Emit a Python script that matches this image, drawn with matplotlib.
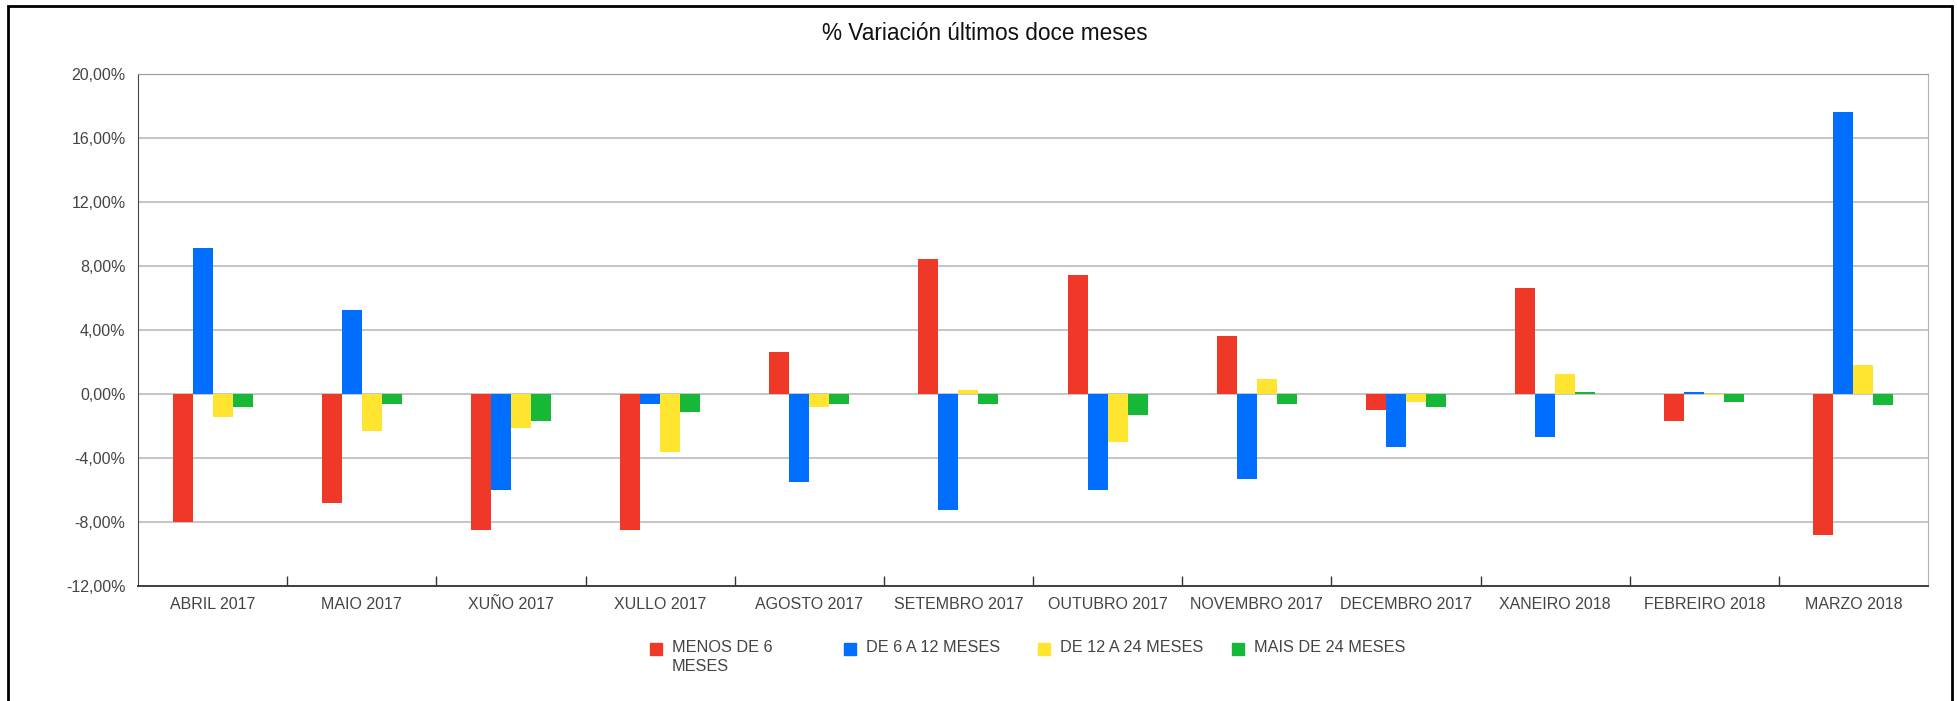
import matplotlib.pyplot as plt
from matplotlib.patches import Rectangle
from matplotlib.ticker import FuncFormatter
import numpy as np

plt.rcParams['font.family'] = ['Liberation Sans', 'DejaVu Sans']

months = [
    'ABRIL 2017', 'MAIO 2017', 'XUÑO 2017', 'XULLO 2017', 'AGOSTO 2017',
    'SETEMBRO 2017', 'OUTUBRO 2017', 'NOVEMBRO 2017', 'DECEMBRO 2017',
    'XANEIRO 2018', 'FEBREIRO 2018', 'MARZO 2018',
]
series_names = ['MENOS DE 6\nMESES', 'DE 6 A 12 MESES', 'DE 12 A 24 MESES', 'MAIS DE 24 MESES']

menos_6 = [-7.97, -6.78, -8.47, -8.47, 2.62, 8.45, 7.45, 3.62, -0.98, 6.64, -1.66, -8.78]
de_6_12 = [9.14, 5.27, -5.97, -0.65, -5.50, -7.25, -6.00, -5.30, -3.28, -2.68, 0.14, 17.64]
de_12_24 = [-1.45, -2.28, -2.15, -3.65, -0.78, 0.23, -2.97, 0.94, -0.48, 1.27, -0.08, 1.79]
mais_24 = [-0.78, -0.65, -1.66, -1.15, -0.62, -0.62, -1.30, -0.62, -0.78, 0.14, -0.47, -0.66]

series = [menos_6, de_6_12, de_12_24, mais_24]
colors = ['#F03828', '#006EFF', '#FFE530', '#17B838']
text_color = '#444444'

W, H = 1958, 701
fig = plt.figure(figsize=(W / 100, H / 100), dpi=100)
ax = fig.add_axes([0.0705, 0.164, 0.9142, 0.7304])

x = np.arange(len(months))
width = 0.134
for i, (vals, col) in enumerate(zip(series, colors)):
    ax.bar(x + (i - 1.5) * width, vals, width, color=col, zorder=3)

ax.set_xlim(-0.5, len(months) - 0.5)
ax.set_ylim(-12, 20)
ax.set_yticks(np.arange(-12, 21, 4))
ax.yaxis.set_major_formatter(FuncFormatter(lambda v, p: f'{v:.2f}'.replace('.', ',') + '%'))
ax.grid(axis='y', color='#c0c0c0', linewidth=1.3, zorder=0)

ax.set_xticks(x)
ax.set_xticklabels(months)
ax.set_xticks(np.arange(0.5, len(months) - 1, 1), minor=True)
ax.tick_params(axis='x', which='major', length=0, pad=8, labelsize=11.5, labelcolor=text_color)
ax.tick_params(axis='x', which='minor', direction='in', length=7, width=1, color='#333333')
ax.tick_params(axis='y', length=0, pad=9, labelsize=11.5, labelcolor=text_color)

ax.spines['left'].set_color('#444444')
ax.spines['bottom'].set_color('#333333')
ax.spines['bottom'].set_linewidth(1.3)
ax.spines['top'].set_color('#999999')
ax.spines['right'].set_color('#b3b3b3')

fig.text(985 / W, 1 - 34 / H, '% Variación últimos doce meses', ha='center', va='center',
         fontsize=16.3, color='#111111')

# legend: four fixed-width columns, square aligned with the first text line
for i, (name, col) in enumerate(zip(series_names, colors)):
    lx = 650 + 194 * i
    fig.patches.append(Rectangle((lx / W, 1 - 655 / H), 12 / W, 12 / H,
                                 transform=fig.transFigure, color=col))
    for j, line in enumerate(name.split('\n')):
        fig.text((lx + 22) / W, 1 - (652 + 19 * j) / H, line, ha='left', va='baseline',
                 fontsize=11.7, color=text_color)

# outer frame
fig.patches.append(Rectangle((0.004, -0.02), 0.993, 1.011, transform=fig.transFigure,
                             fill=False, edgecolor='black', linewidth=2))

fig.savefig('out.png', dpi=100)
